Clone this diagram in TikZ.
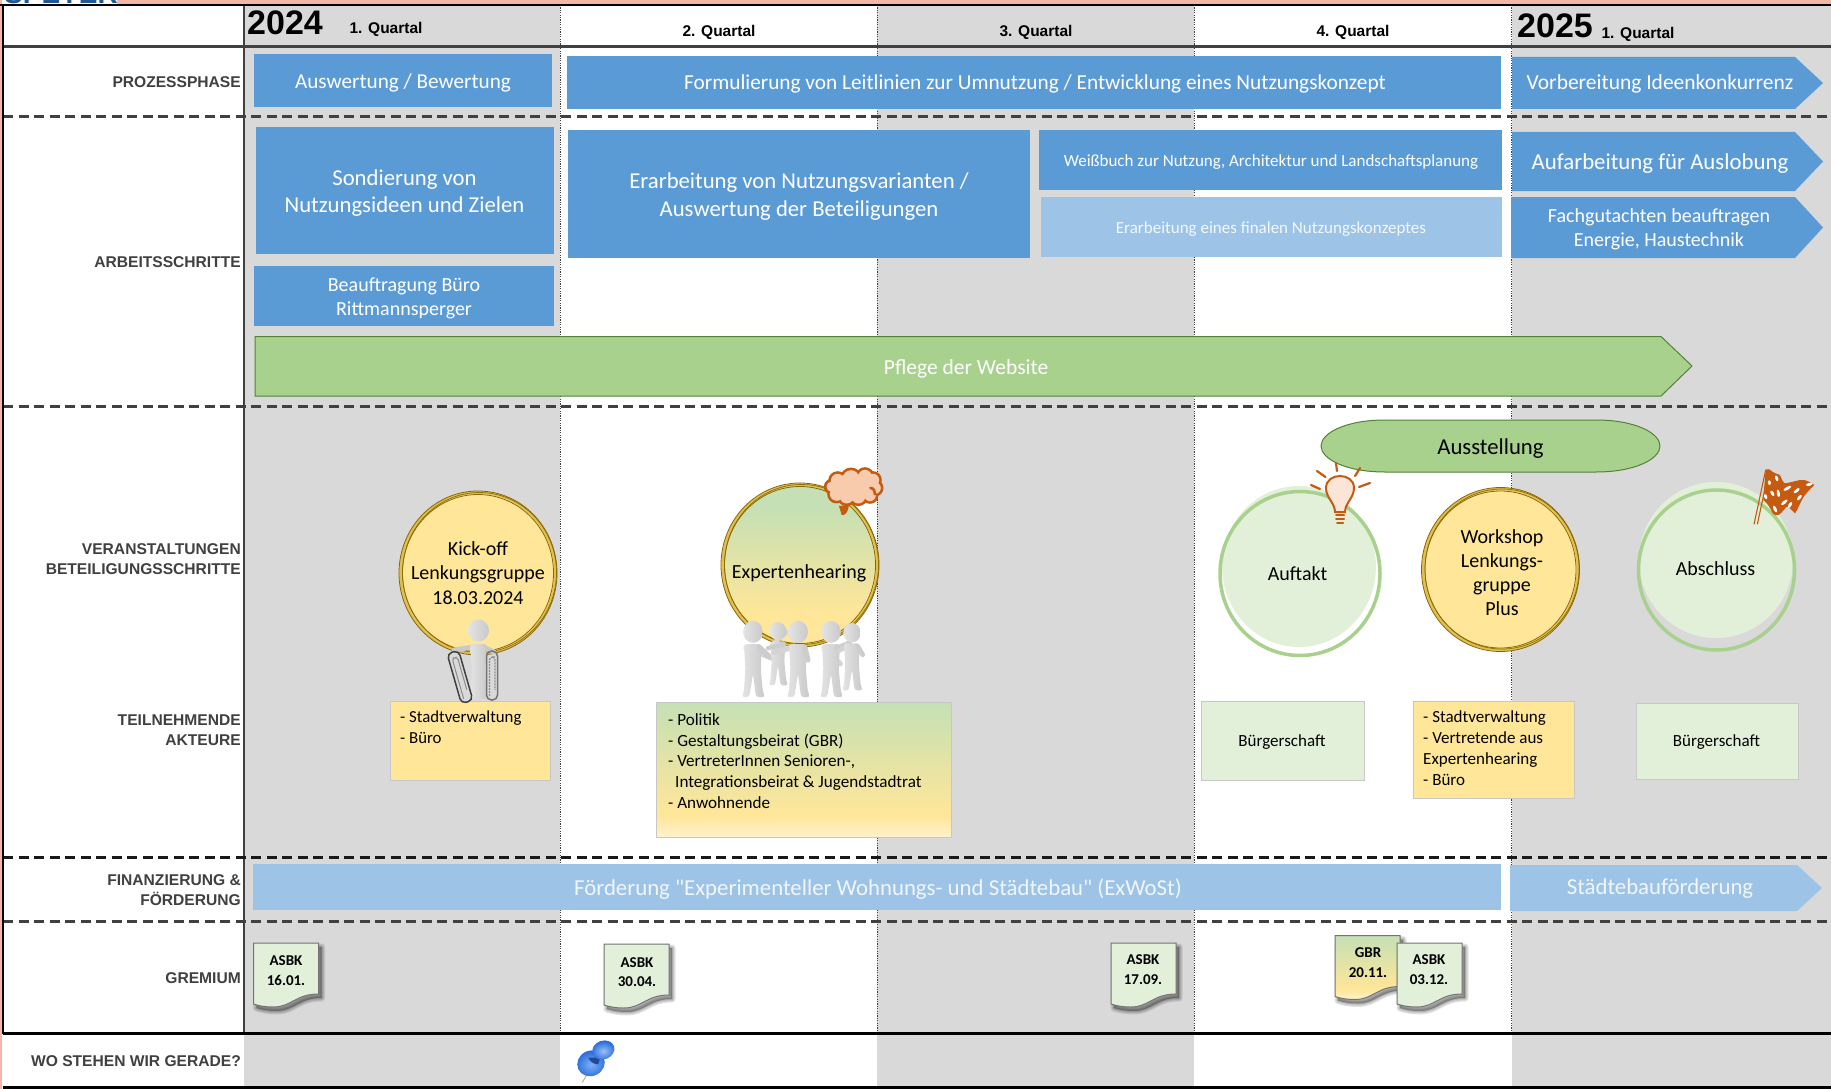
\documentclass[tikz,border=0pt]{standalone}
\usepackage{fontspec}
\setmainfont{Liberation Sans}
\newfontfamily\carl{Carlito}
\usetikzlibrary{shapes.geometric}
\definecolor{gbg}{HTML}{D9D9D9}
\definecolor{blu}{HTML}{5B9BD5}
\definecolor{lblu}{HTML}{9DC3E6}
\definecolor{grn}{HTML}{A9D18E}
\definecolor{dgrn}{HTML}{548235}
\definecolor{lgrn}{HTML}{E2F0D9}
\definecolor{mgrn}{HTML}{C5E0B4}
\definecolor{yel}{HTML}{FFE699}
\definecolor{lyel}{HTML}{FFF2CC}
\definecolor{gold}{HTML}{BF9000}
\definecolor{dgold}{HTML}{7F6000}
\definecolor{org}{HTML}{C55A11}
\definecolor{lorg}{HTML}{F8CBAD}
\definecolor{lbl}{HTML}{404040}
\definecolor{salm}{HTML}{F4B6A5}
\definecolor{figl}{HTML}{E4E4E4}
\definecolor{figd}{HTML}{C9C9C9}
\definecolor{pinb}{HTML}{2A6BDC}
\definecolor{pinl}{HTML}{7FB0F5}
\definecolor{spey}{HTML}{1F5A94}
\pgfdeclareverticalshading{gybox}{100bp}{color(0bp)=(lyel); color(25bp)=(lyel); color(33bp)=(yel); color(75bp)=(mgrn); color(100bp)=(mgrn)}
\pgfdeclareverticalshading{gycirc}{100bp}{color(0bp)=(yel); color(35bp)=(yel); color(68bp)=(mgrn); color(100bp)=(mgrn)}
\tikzset{
  x=1pt,y=-1pt,
  txt/.style 2 args={font=\carl\fontsize{#1}{#2}\selectfont,align=center,inner sep=0pt},
  wtxt/.style 2 args={txt={#1}{#2},text=white},
  ltxt/.style 2 args={font=\carl\fontsize{#1}{#2}\selectfont,align=left,inner sep=0pt,anchor=west},
  rowlab/.style={font=\bfseries\fontsize{15.6}{20}\selectfont,text=lbl,align=right,anchor=east,inner sep=0pt},
  qlab/.style={font=\bfseries\fontsize{15.5}{18}\selectfont,inner sep=0pt},
  yearlab/.style={font=\bfseries\fontsize{34}{40}\selectfont,inner sep=0pt,anchor=west},
  bluebox/.style={fill=blu,draw=none},
  lightbox/.style={fill=lblu,draw=none},
  dashrow/.style={draw=lbl,line width=3pt,dash pattern=on 10pt off 5.5pt},
  coldot/.style={draw=black!75,line width=1.5pt,dash pattern=on 1.2pt off 1.2pt},
  note/.style={draw=black!22,line width=1pt},
  docline/.style={draw=black!55,line width=1pt},
  doctxt/.style={font=\carl\bfseries\fontsize{15}{19.5}\selectfont,align=center,inner sep=0pt},
}
\def\docpath{(0,0) -- (65,0) -- (65,51) .. controls (42,51) and (38,64) .. (20,64) .. controls (12,64) and (6,63) .. (0,61) -- cycle}
\newcommand\docshape[3]{% x,y,fill options
 \begin{scope}[shift={(#1,#2)}]
  \begin{scope}[shift={(3,4)}]
   \foreach \w in {7,4.5,2}{\path[fill=black,draw=black,opacity=.11,line width=\w pt,line join=round] \docpath;}
  \end{scope}
  \path[docline,#3] \docpath;
 \end{scope}
}
\newcommand\goldring[3]{% cx, cy, extra
  \draw[gold!45!yel,line width=2.6pt] (#1,#2) ellipse [x radius=77.5,y radius=80.5];
  \draw[dgold!85!gold,line width=.8pt] (#1,#2) ellipse [x radius=79,y radius=82];
  \draw[dgold!85!gold,line width=.8pt] (#1,#2) ellipse [x radius=75.5,y radius=78.5];
  \draw[dgold!70!gold,line width=.7pt] ([xshift=1.5pt,yshift=.5pt]#1,#2) ellipse [x radius=77,y radius=80];
}
\newcommand\person[5]{% x, top y, scale, hand L, hand R
 \begin{scope}[shift={(#1,#2)},x=#3pt,y=-#3pt]
  \draw[figd!60!figl,line width=#3*7pt,line cap=round] (-9,34) -- (#4);
  \shade[left color=figl,right color=figd,rounded corners=#3*4pt] (-12,29) -- (12,29) -- (10,60) -- (13,92) -- (16,99) -- (4,99) -- (0,68) -- (-5,99) -- (-15,99) -- (-12,92) -- (-10,60) -- cycle;
  \draw[figd!85!figl,line width=#3*7pt,line cap=round] (9,34) -- (#5);
  \shade[left color=figl,right color=figd] (0,13) ellipse [x radius=13,y radius=14.5];
 \end{scope}
}
\begin{document}
\begin{tikzpicture}
\useasboundingbox (0,0) rectangle (1831,1089);
\fill[white] (0,0) rectangle (1831,1089);
% page edge
\fill[salm] (117,0) rectangle (1831,4.5);
\fill[salm] (0,0) rectangle (2,1089);
\begin{scope}
 \clip (2,0) rectangle (120,4);
 \node[font=\bfseries\fontsize{28}{28}\selectfont,text=spey,inner sep=0pt,anchor=base west] (speyer) at (4,3.5) {SPEYER};
\end{scope}
% columns
\fill[gbg] (244,5) rectangle (560,1033);
\fill[gbg] (877,5) rectangle (1194,1033);
\fill[gbg] (1512,5) rectangle (1831,1033);
\fill[gbg] (244,1033) rectangle (560,1087);
\fill[gbg] (877,1033) rectangle (1194,1087);
\fill[gbg] (1512,1033) rectangle (1831,1087);
\draw[coldot] (560.5,5) -- (560.5,1033);
\draw[coldot,line width=1pt] (877.5,5) -- (877.5,1033);
\draw[coldot,line width=1pt] (1194,5) -- (1194,1033);
\draw[coldot,line width=1pt] (1511.5,5) -- (1511.5,1033);
% rules
\draw[lbl,line width=2pt] (244.3,5) -- (244.3,1033);
\draw[lbl,line width=2.4pt] (3,46.7) -- (1831,46.7);
\draw[dashrow] (3,116.3) -- (1831,116.3);
\draw[dashrow] (3,406.7) -- (1831,406.7);
\draw[dashrow,draw=black!90] (3,857.3) -- (1831,857.3);
\draw[dashrow] (3,921.3) -- (1831,921.3);
\draw[black,line width=2.8pt] (3,1033.5) -- (1831,1033.5);
\draw[black,line width=2.8pt] (3,1087.7) -- (1831,1087.7);
\draw[black,line width=2pt] (0,5) -- (1831,5);
\draw[black,line width=2.6pt] (3,5) -- (3,1033.5);
% header
\node[yearlab] (y24) at (247,23) {2024};
\node[qlab] (q1) at (386,29.5) {1. Quartal};
\node[qlab] (q2) at (719,32) {2. Quartal};
\node[qlab] (q3) at (1036,32) {3. Quartal};
\node[qlab] (q4) at (1353,32) {4. Quartal};
\node[yearlab] (y25) at (1517,26) {2025};
\node[qlab] (q5) at (1638,34) {1. Quartal};
% row labels
\node[rowlab] (l1) at (241,82) {PROZESSPHASE};
\node[rowlab] (l2) at (241,262) {ARBEITSSCHRITTE};
\node[rowlab] (l3) at (241,559) {VERANSTALTUNGEN\\BETEILIGUNGSSCHRITTE};
\node[rowlab] (l4) at (241,730) {TEILNEHMENDE\\AKTEURE};
\node[rowlab] (l5) at (241,890) {FINANZIERUNG \&\\FÖRDERUNG};
\node[rowlab] (l6) at (241,978) {GREMIUM};
\node[rowlab] (l7) at (241,1061) {WO STEHEN WIR GERADE?};
% prozessphase
\fill[bluebox] (254,54) rectangle (552,107);
\node[wtxt={21.2}{25}] (p1) at (403,83) {Auswertung / Bewertung};
\fill[bluebox] (567,56) rectangle (1501,109);
\node[wtxt={21.3}{25}] (p2) at (1035,84) {Formulierung von Leitlinien zur Umnutzung / Entwicklung eines Nutzungskonzept};
\fill[bluebox] (1512,57) -- (1795,57) -- (1823,83) -- (1795,109) -- (1512,109) -- cycle;
\node[wtxt={21.5}{25}] (p3) at (1660,84) {Vorbereitung Ideenkonkurrenz};
% arbeitsschritte
\fill[bluebox] (256,127) rectangle (554,254);
\node[wtxt={22.7}{27.5}] (a1) at (404.5,193) {Sondierung von\\Nutzungsideen und Zielen};
\fill[bluebox] (254,266) rectangle (554,326);
\node[wtxt={20}{24}] (a2) at (404,298) {Beauftragung Büro\\Rittmannsperger};
\fill[bluebox] (568,130) rectangle (1030,258);
\node[wtxt={22.7}{28}] (a3) at (799,197) {Erarbeitung von Nutzungsvarianten /\\Auswertung der Beteiligungen};
\fill[bluebox] (1039,130) rectangle (1502,190);
\node[wtxt={17}{20}] (a4) at (1271,162) {Weißbuch zur Nutzung, Architektur und Landschaftsplanung};
\fill[lightbox] (1041,197) rectangle (1502,257);
\node[txt={17}{20},text=white!88!lblu] (a5) at (1271,229) {Erarbeitung eines finalen Nutzungskonzeptes};
\fill[bluebox] (1512,132) -- (1795,132) -- (1823,161.5) -- (1795,191) -- (1512,191) -- cycle;
\node[wtxt={22.8}{27}] (a6) at (1660,163.5) {Aufarbeitung für Auslobung};
\fill[bluebox] (1511,197) -- (1795,197) -- (1823,227.5) -- (1795,258) -- (1511,258) -- cycle;
\node[wtxt={20}{24}] (a7) at (1659,229.5) {Fachgutachten beauftragen\\Energie, Haustechnik};
\path[fill=grn,draw=dgrn,line width=1pt] (255,336.5) -- (1661,336.5) -- (1692,366) -- (1661,396) -- (255,396) -- cycle;
\node[wtxt={21.5}{24}] (a8) at (966,369) {Pflege der Website};
% Ausstellung
\path[fill=grn,draw=dgrn,line width=1pt] (1385,420) -- (1596,420) .. controls (1635,420) and (1660,433) .. (1660,446) .. controls (1660,459) and (1635,472) .. (1596,472) -- (1385,472) .. controls (1346,472) and (1321,459) .. (1321,446) .. controls (1321,433) and (1346,420) .. (1385,420) -- cycle;
\node[txt={22.7}{26}] (v0) at (1490.5,448.5) {Ausstellung};
% gold circles
\fill[yel] (478,573) ellipse [x radius=77,y radius=80];
\goldring{478}{573}{}
\node[txt={20}{24.5}] (v1) at (478,573) {Kick-off\\Lenkungsgruppe\\18.03.2024};
\shade[shading=gycirc] (800,565) ellipse [x radius=77,y radius=80];
\goldring{800}{565}{}
\node[txt={20}{24.5}] (v2) at (799,573.5) {Expertenhearing};
\fill[yel] (1500.5,569.5) ellipse [x radius=77,y radius=80];
\goldring{1500.5}{569.5}{}
\node[txt={20}{24}] (v4) at (1502,573) {Workshop\\Lenkungs-\\gruppe\\Plus};
% green circles
\fill[lgrn] (1299,566.5) ellipse [x radius=77,y radius=80.5];
\draw[grn,line width=3.5pt] (1300,573.5) ellipse [x radius=80,y radius=82];
\node[txt={20}{24}] (v3) at (1297.6,574) {Auftakt};
\fill[lgrn] (1716,560) ellipse [x radius=77,y radius=78];
\draw[grn,line width=3.5pt] (1716.5,570) ellipse [x radius=78,y radius=80];
\node[txt={20}{24}] (v5) at (1715.5,569) {Abschluss};
% notes
\fill[yel] (390,701) rectangle (550,780);
\draw[note] (390,701) rectangle (550,780);
\node[ltxt={16.8}{21}] (n1) at (400,727.5) {- Stadtverwaltung\\- Büro};
\shade[shading=gybox] (656,702) rectangle (951,837);
\draw[note] (656,702) rectangle (951,837);
\node[ltxt={17.1}{20.8}] (n2) at (668,761) {- Politik\\- Gestaltungsbeirat (GBR)\\- VertreterInnen Senioren-,\\\hspace*{7pt}Integrationsbeirat \& Jugendstadtrat\\- Anwohnende};
\fill[lgrn] (1201.5,701) rectangle (1364,780);
\draw[note] (1201.5,701) rectangle (1364,780);
\node[txt={17}{21}] (n3) at (1282,742.5) {Bürgerschaft};
\fill[yel] (1413,701) rectangle (1574,798);
\draw[note] (1413,701) rectangle (1574,798);
\node[ltxt={17}{21}] (n4) at (1423,748.5) {- Stadtverwaltung\\- Vertretende aus\\Expertenhearing\\- Büro};
\fill[lgrn] (1636,703) rectangle (1798,779);
\draw[note] (1636,703) rectangle (1798,779);
\node[txt={17}{21}] (n5) at (1716.5,742.5) {Bürgerschaft};
% finance
\fill[lightbox] (253,864) rectangle (1501,910);
\node[txt={22.8}{26},text=white!85!lblu] (f1) at (878,889) {Förderung "Experimenteller Wohnungs- und Städtebau" (ExWoSt)};
\fill[lightbox] (1510,865) -- (1797,865) -- (1822,888) -- (1797,911) -- (1510,911) -- cycle;
\node[txt={22.8}{26},text=white!85!lblu] (f2) at (1660,889) {Städtebauförderung};
% documents
\docshape{253.5}{943}{fill=lgrn}
\node[doctxt] (d1) at (286,970.5) {ASBK\\16.01.};
\docshape{604}{944}{fill=lgrn}
\node[doctxt] (d2) at (637,972) {ASBK\\30.04.};
\docshape{1111}{943}{fill=lgrn}
\node[doctxt] (d3) at (1143,969.5) {ASBK\\17.09.};
\docshape{1335}{935.5}{shade,shading=gybox}
\node[doctxt] (d4) at (1368,962.5) {GBR\\20.11.};
\docshape{1397}{943}{fill=lgrn}
\node[doctxt] (d5) at (1429,969.5) {ASBK\\03.12.};
% paper clip person
\draw[figd,line width=5pt,line cap=round] (473,647) -- (454,650);
\draw[figd,line width=5pt,line cap=round] (483,647) -- (494,652);
\shade[left color=figl,right color=figd,rounded corners=2.5pt] (470,644) -- (487,644) -- (485,670) -- (487,699) -- (479,699) -- (478,680) -- (475,699) -- (470,699) -- (472,670) -- cycle;
\shade[left color=figl,right color=figd] (478.5,630.5) ellipse [x radius=10.5,y radius=11];
\begin{scope}[shift={(460,677)},rotate=16]
 \draw[black!75,line width=1.5pt,rounded corners=5pt] (-6,26) rectangle (6,-26);
 \draw[black!45,line width=1pt,rounded corners=3pt] (-2.5,22) -- (-2.5,-20) -- (3,-20) -- (3,14);
\end{scope}
\draw[black!55,line width=1.5pt,rounded corners=5pt] (486.5,651) rectangle (497.5,700);
\draw[black!45,line width=1.2pt,dash pattern=on 2pt off 1pt,rounded corners=3pt] (489.5,696) -- (489.5,657) -- (495,657) -- (495,690);
% group of people
\person{753}{622}{0.76}{26,48}{22,46}
\person{778}{623}{0.63}{14,14}{-16,40}
\person{798}{622}{0.76}{-32,40}{13,50}
\person{831}{622}{0.76}{12,55}{24,28}
\person{852}{624}{0.67}{-20,40}{16,46}
% cloud
\begin{scope}[shift={(815,460)},x=.3333pt,y=-.3333pt]
 \fill[org] (72,138) -- (80,165) .. controls (90,168) and (100,155) .. (102,135) -- cycle;
 \foreach \cx/\cy/\cr in {68/62/25,108/55/29,150/50/25,174/60/23,180/84/22,165/106/22,130/110/25,95/110/25,65/102/25,50/80/20}{
   \fill[org] (\cx,\cy) circle [radius=\cr+3.5];
 }
 \foreach \cx/\cy/\cr in {68/62/25,108/55/29,150/50/25,174/60/23,180/84/22,165/106/22,130/110/25,95/110/25,65/102/25,50/80/20}{
   \fill[lorg] (\cx,\cy) circle [radius=\cr-4.5];
 }
 \fill[lorg] (115,82) ellipse [x radius=70,y radius=40];
 \draw[org,line width=2.6pt,line cap=round] (166,84) .. controls (178,84) and (180,96) .. (180,103);
\end{scope}
% light bulb
\draw[org,line width=2pt,fill=lorg!50] (1335,512) .. controls (1335,503) and (1326,498) .. (1326,488) .. controls (1326,480) and (1333,476) .. (1340,476) .. controls (1347,476) and (1354,480) .. (1354,488) .. controls (1354,498) and (1345,503) .. (1345,512) -- cycle;
\draw[org,line width=2pt,line cap=round] (1336,515) -- (1344,515);
\draw[org,line width=2pt,line cap=round] (1336,519) -- (1344,519);
\draw[org,line width=2pt,line cap=round] (1337,522.5) -- (1343,522.5);
\draw[org,line width=2.2pt,line cap=round] (1336,463) -- (1337,471);
\draw[org,line width=2.2pt,line cap=round] (1317,471) -- (1325.5,477);
\draw[org,line width=2.2pt,line cap=round] (1311,485) -- (1320,489);
\draw[org,line width=2.2pt,line cap=round] (1360,468) -- (1355,476);
\draw[org,line width=2.2pt,line cap=round] (1370,483) -- (1359,487);
% flag
\begin{scope}[shift={(1750,460)},x=.3333pt,y=-.3333pt]
 \draw[org,line width=1.1pt] (47,30) -- (12,193);
 \draw[org,line width=1.1pt] (57,30) -- (22,193);
 \fill[org] (47,28) -- (58,28) .. controls (68,38) and (82,42) .. (90,45) .. controls (96,60) and (100,68) .. (105,70) .. controls (125,68) and (145,58) .. (162,60) .. controls (175,62) and (185,70) .. (193,75) .. controls (180,88) and (168,100) .. (160,112) .. controls (152,125) and (145,145) .. (135,160) .. controls (125,150) and (118,142) .. (110,140) .. controls (102,148) and (95,160) .. (85,165) .. controls (78,168) and (72,165) .. (68,160) .. controls (62,145) and (52,130) .. (40,120) -- (42,90) -- cycle;
 \foreach \fx/\fy/\fa/\fr in {80/55/-70/9,58/68/-80/7,85/100/-80/11,67/100/-60/9,47/110/-70/8,112/85/30/13,140/92/40/11,178/73/15/10,148/113/50/10,103/127/40/12,75/147/-65/11,120/135/60/10}{
   \fill[white] (\fx,\fy) ellipse [x radius=\fr,y radius=4.5,rotate=\fa];
 }
\end{scope}
% pin
\begin{scope}[shift={(570,1035)},x=.3333pt,y=-.3333pt]
 \draw[black!30,line width=1pt] (50,120) -- (37,142);
 \shade[inner color=pinl,outer color=pinb] (63,85) ellipse [x radius=42,y radius=38,rotate=25];
 \fill[pinb!70!black] (55,68) -- (90,68) -- (85,88) .. controls (72,88) and (60,80) .. (55,68) -- cycle;
 \shade[inner color=pinl!80!white,outer color=pinb] (100,45) ellipse [x radius=34,y radius=28,rotate=20];
\end{scope}
\end{tikzpicture}
\end{document}
